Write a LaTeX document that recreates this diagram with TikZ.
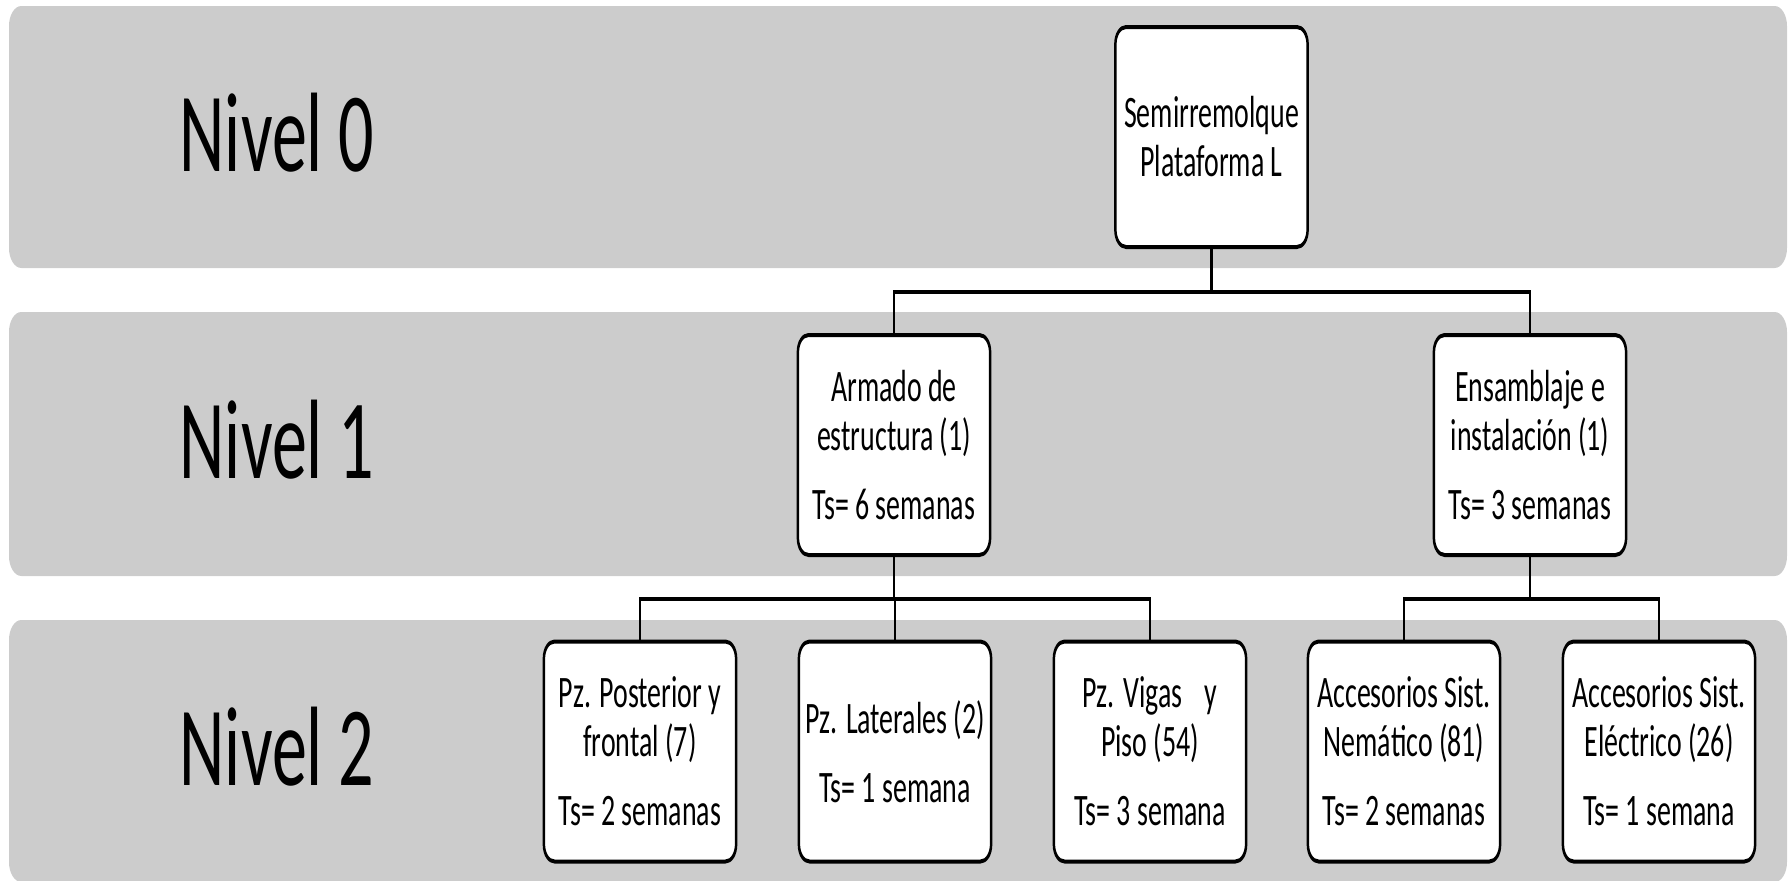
\documentclass[tikz,border=0pt]{standalone}
\usepackage{fontspec}
\setmainfont{Carlito}
\definecolor{bandgray}{RGB}{204,204,204}
\begin{document}
\begin{tikzpicture}[x=1pt,y=-1pt]
\useasboundingbox (0,0) rectangle (1792,881);
\begin{scope}[transform canvas={xscale=0.62}, x=1.612903pt, y=-1pt,
  band/.style={fill=bandgray, rounded corners=20pt},
  lvl/.style={anchor=base, font=\fontsize{113}{120}\selectfont, inner sep=0pt},
  box/.style={draw=black, line width=4pt, fill=white, rounded corners=17pt,
    minimum width=310pt, minimum height=220pt, align=center, inner sep=0pt,
    font=\fontsize{45}{49}\selectfont},
  link/.style={draw=black, line width=3.5pt}]
  % bands
  \fill[band] (9,6) rectangle (1787,268);
  \fill[band] (9,312) rectangle (1787,576);
  \fill[band] (9,620) rectangle (1787,882);
  % level labels
  \node[lvl] (n0) at (277,171) {Nivel 0};
  \node[lvl] (n1) at (277,478) {Nivel 1};
  \node[lvl] (n2) at (277,785) {Nivel 2};
  % junction points
  \coordinate (j0) at (1211.5,292);
  \coordinate (j1) at (894,599);
  \coordinate (j2) at (1530,599);
  % boxes
  \node[box] (root) at (1211.5,137) {Semirremolque\\Plataforma L};
  \node[box] (arm) at (894,445) {Armado de\\estructura (1)\\[20pt]Ts= 6 semanas};
  \node[box] (ens) at (1530,445) {Ensamblaje e\\instalación (1)\\[20pt]Ts= 3 semanas};
  \node[box] (p1) at (640,751.5) {Pz. Posterior y\\frontal (7)\\[20pt]Ts= 2 semanas};
  \node[box] (p2) at (895,751.5) {Pz. Laterales (2)\\[20pt]Ts= 1 semana};
  \node[box] (p3) at (1150,751.5) {Pz. Vigas\hspace{36pt}y\\Piso (54)\\[20pt]Ts= 3 semana};
  \node[box] (p4) at (1404,751.5) {Accesorios Sist.\\Nemático (81)\\[20pt]Ts= 2 semanas};
  \node[box] (p5) at (1659,751.5) {Accesorios Sist.\\Eléctrico (26)\\[20pt]Ts= 1 semana};
  % connectors
  \draw[link] (root.south) -- (j0);
  \draw[link] (arm.north) |- (j0) -| (ens.north);
  \draw[link] (arm.south) -- (j1);
  \draw[link] (p1.north) |- (j1) -| (p3.north);
  \draw[link] (p2.north) -- (p2.north |- j1);
  \draw[link] (ens.south) -- (j2);
  \draw[link] (p4.north) |- (j2) -| (p5.north);
\end{scope}
\end{tikzpicture}
\end{document}
